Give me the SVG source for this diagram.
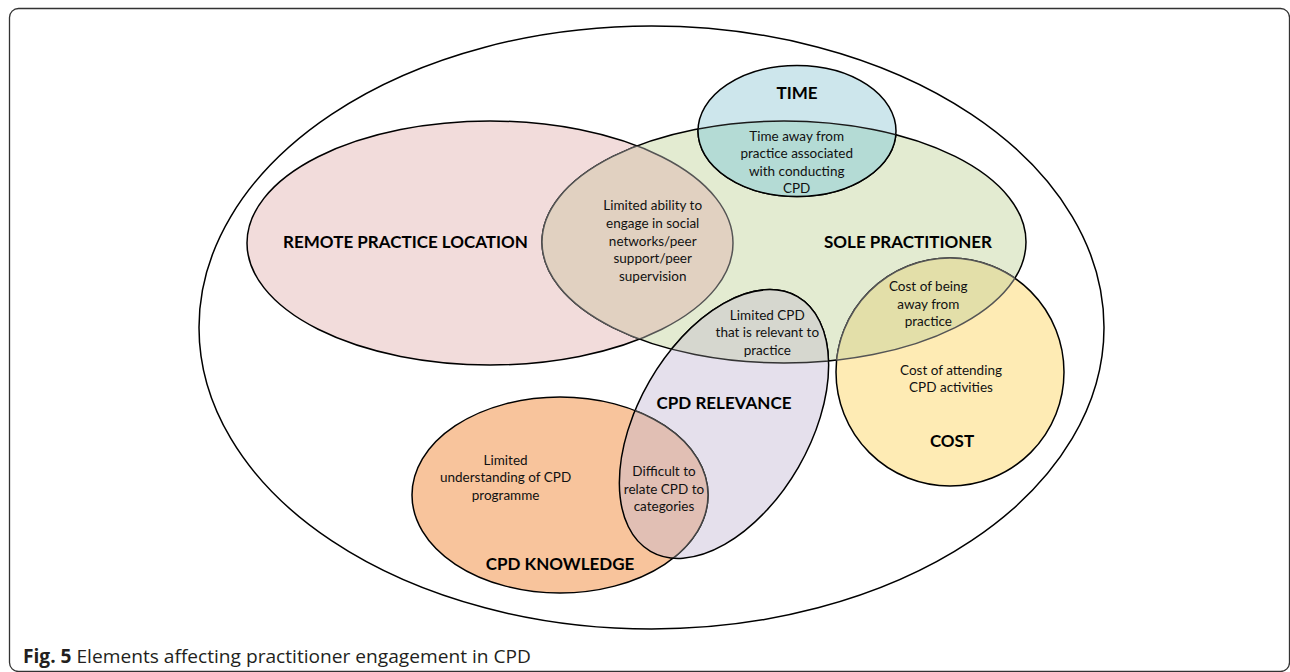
<svg xmlns="http://www.w3.org/2000/svg" xmlns:xlink="http://www.w3.org/1999/xlink" width="1290" height="672" viewBox="0 0 1290 672">
<style>
  .lbl { font-family: Lato, "Open Sans", sans-serif; font-weight: bold; font-size: 17px; fill: #000; text-anchor: middle; }
  .txt { font-family: Lato, "Open Sans", sans-serif; font-size: 13.5px; fill: #111; text-anchor: middle; }
  .ln { fill: none; stroke: #000; stroke-width: 1.5; }
  .cap { font-family: "Open Sans", "Liberation Sans", sans-serif; font-size: 19px; fill: #231f20; }
</style>
<defs>
  <ellipse id="e-remote" cx="490" cy="243" rx="243" ry="122"/>
  <ellipse id="e-sole" cx="784" cy="242" rx="242" ry="121"/>
  <ellipse id="e-time" cx="797" cy="131" rx="99" ry="65.5"/>
  <ellipse id="e-cost" cx="950" cy="372" rx="114" ry="114"/>
  <ellipse id="e-rel" cx="0" cy="0" rx="86" ry="147" transform="translate(724 424) rotate(30)"/>
  <ellipse id="e-know" cx="560" cy="495" rx="148" ry="98"/>
  <clipPath id="c-remote"><use xlink:href="#e-remote"/></clipPath>
  <clipPath id="c-sole"><use xlink:href="#e-sole"/></clipPath>
  <clipPath id="c-time"><use xlink:href="#e-time"/></clipPath>
  <clipPath id="c-cost"><use xlink:href="#e-cost"/></clipPath>
  <clipPath id="c-rel"><use xlink:href="#e-rel"/></clipPath>
  <clipPath id="c-know"><use xlink:href="#e-know"/></clipPath>
</defs>

<rect id="frame" x="9.5" y="8.5" width="1280" height="663" rx="9" fill="#fff" stroke="#333" stroke-width="1.3"/>

<g id="outer">
  <ellipse cx="651.5" cy="327.5" rx="452.5" ry="301.5" fill="none" stroke="#000" stroke-width="1.5"/>
</g>

<g id="remote-practice-location">
  <use xlink:href="#e-remote" fill="#f2dcdb" class="ln" style="fill:#f2dcdb"/>
  <text class="lbl" x="405.5" y="247.7">REMOTE PRACTICE LOCATION</text>
</g>

<g id="sole-practitioner">
  <use xlink:href="#e-sole" class="ln" style="fill:#e3ebd1"/>
  <text class="lbl" x="908" y="247.7">SOLE PRACTITIONER</text>
</g>

<g id="time">
  <use xlink:href="#e-time" class="ln" style="fill:#cde6ec"/>
  <text class="lbl" x="797" y="99">TIME</text>
</g>

<g id="cost">
  <use xlink:href="#e-cost" class="ln" style="fill:#feebb4"/>
  <text class="txt" x="951" y="374.7">Cost of attending<tspan x="951" dy="17.4">CPD activities</tspan></text>
  <text class="lbl" x="952" y="447">COST</text>
</g>

<g id="cpd-relevance">
  <use xlink:href="#e-rel" class="ln" style="fill:#e5e0ec"/>
  <text class="lbl" x="724" y="409">CPD RELEVANCE</text>
</g>

<g id="cpd-knowledge">
  <use xlink:href="#e-know" class="ln" style="fill:#f8c49c"/>
  <text class="txt" x="505.6" y="464.7">Limited<tspan x="505.6" dy="17.4">understanding of CPD</tspan><tspan x="505.6" dy="17.4">programme</tspan></text>
  <text class="lbl" x="560" y="570">CPD KNOWLEDGE</text>
</g>

<g id="overlaps">
  <!-- remote x sole -->
  <g id="overlap-remote-sole">
    <use xlink:href="#e-remote" clip-path="url(#c-sole)" fill="#e1d1c1"/>
    <use xlink:href="#e-remote" clip-path="url(#c-sole)" fill="none" stroke="#555" stroke-width="1.5"/>
    <use xlink:href="#e-sole" clip-path="url(#c-remote)" fill="none" stroke="#555" stroke-width="1.5"/>
    <text class="txt" x="652.7" y="210.4">Limited ability to<tspan x="652.7" dy="17.6">engage in social</tspan><tspan x="652.7" dy="17.6">networks/peer</tspan><tspan x="652.7" dy="17.6">support/peer</tspan><tspan x="652.7" dy="17.6">supervision</tspan></text>
  </g>
  <!-- time x sole -->
  <g id="overlap-time-sole">
    <use xlink:href="#e-time" clip-path="url(#c-sole)" fill="#b4dbd5"/>
    <use xlink:href="#e-time" clip-path="url(#c-sole)" fill="none" stroke="#000" stroke-width="1.5"/>
    <use xlink:href="#e-sole" clip-path="url(#c-time)" fill="none" stroke="#1a1a1a" stroke-width="1.5"/>
    <text class="txt" x="796.7" y="140.7">Time away from<tspan x="796.7" dy="17.5">practice associated</tspan><tspan x="796.7" dy="17.5">with conducting</tspan><tspan x="796.7" dy="17.5">CPD</tspan></text>
  </g>
  <!-- cost x sole -->
  <g id="overlap-cost-sole">
    <use xlink:href="#e-cost" clip-path="url(#c-sole)" fill="#e3dfa9"/>
    <use xlink:href="#e-cost" clip-path="url(#c-sole)" fill="none" stroke="#555" stroke-width="1.5"/>
    <use xlink:href="#e-sole" clip-path="url(#c-cost)" fill="none" stroke="#555" stroke-width="1.5"/>
    <text class="txt" x="928.3" y="291.4">Cost of being<tspan x="928.3" dy="17.5">away from</tspan><tspan x="928.3" dy="17.5">practice</tspan></text>
  </g>
  <!-- relevance x sole -->
  <g id="overlap-relevance-sole">
    <use xlink:href="#e-rel" clip-path="url(#c-sole)" fill="#d6d7cf"/>
    <use xlink:href="#e-sole" clip-path="url(#c-rel)" fill="none" stroke="#333" stroke-width="1.5"/>
    <use xlink:href="#e-rel" clip-path="url(#c-sole)" fill="none" stroke="#000" stroke-width="1.5"/>
    <text class="txt" x="767.3" y="319.7">Limited CPD<tspan x="767.3" dy="17.6">that is relevant to</tspan><tspan x="767.3" dy="17.6">practice</tspan></text>
  </g>
  <!-- knowledge x relevance -->
  <g id="overlap-knowledge-relevance">
    <use xlink:href="#e-know" clip-path="url(#c-rel)" fill="#e1bfb4"/>
    <use xlink:href="#e-know" clip-path="url(#c-rel)" fill="none" stroke="#444" stroke-width="1.5"/>
    <use xlink:href="#e-rel" clip-path="url(#c-know)" fill="none" stroke="#000" stroke-width="1.5"/>
    <text class="txt" x="664" y="476.4">Difficult to<tspan x="664" dy="17.5">relate CPD to</tspan><tspan x="664" dy="17.5">categories</tspan></text>
  </g>
</g>

<text class="cap" x="23" y="663" textLength="508" lengthAdjust="spacingAndGlyphs"><tspan font-weight="bold">Fig. 5</tspan> Elements affecting practitioner engagement in CPD</text>
</svg>
